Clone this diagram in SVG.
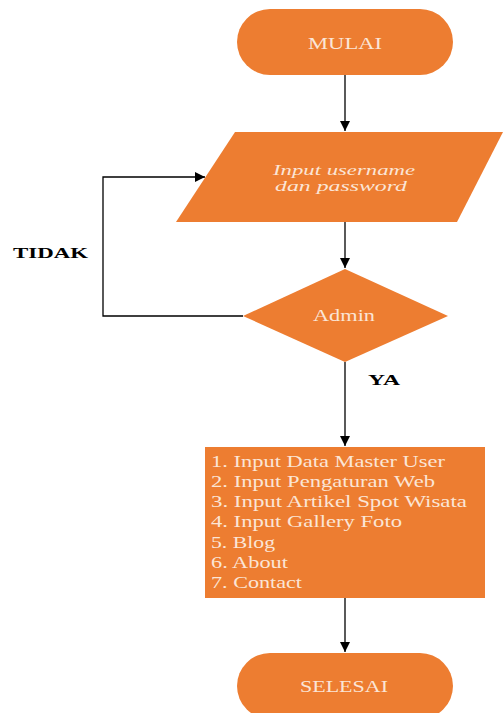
<svg xmlns="http://www.w3.org/2000/svg" width="504" height="713" viewBox="0 0 504 713">
<style>
.shape{fill:#ED7D31;stroke:none}
.lbl{font-family:"Liberation Serif","Times New Roman",serif;fill:#FBE5D6;font-size:17px}
.ital{font-style:italic;font-size:15.5px}
.item{font-family:"Liberation Serif","Times New Roman",serif;fill:#FBE5D6;font-size:16.5px}
.edge{fill:none;stroke:#000;stroke-width:1.3}
.cond{font-family:"Liberation Serif","Times New Roman",serif;font-weight:bold;font-size:15px;fill:#000}
</style>
<defs>
<marker id="arr" viewBox="0 0 10 10" refX="10" refY="5" markerWidth="10" markerHeight="10" markerUnits="userSpaceOnUse" orient="auto">
<path d="M0,0 L10,5 L0,10 z" fill="#000"/>
</marker>
</defs>
<rect width="504" height="713" fill="#fff"/>
<g id="connectors">
<path class="edge" d="M345,75 V131" marker-end="url(#arr)"/>
<path class="edge" d="M345,222 V268" marker-end="url(#arr)"/>
<path class="edge" d="M243,316 H103 V177 H205" marker-end="url(#arr)"/>
<path class="edge" d="M345,362 V446" marker-end="url(#arr)"/>
<path class="edge" d="M345,598 V652" marker-end="url(#arr)"/>
<text class="cond" x="13" y="258" textLength="75" lengthAdjust="spacingAndGlyphs">TIDAK</text>
<text class="cond" x="368" y="385" textLength="32" lengthAdjust="spacingAndGlyphs">YA</text>
</g>
<g id="mulai">
<rect class="shape" x="237" y="9" width="216" height="66" rx="33"/>
<text class="lbl" x="308" y="49" textLength="74" lengthAdjust="spacingAndGlyphs">MULAI</text>
</g>
<g id="input">
<polygon class="shape" points="235,132 503,132 457,222 176,222"/>
<text class="lbl ital" x="273" y="175" textLength="142" lengthAdjust="spacingAndGlyphs">Input username</text>
<text class="lbl ital" x="275" y="191" textLength="132" lengthAdjust="spacingAndGlyphs">dan password</text>
</g>
<g id="admin">
<polygon class="shape" points="345,269 448,316 345,362 243,316"/>
<text class="lbl" x="313" y="321" textLength="62" lengthAdjust="spacingAndGlyphs">Admin</text>
</g>
<g id="menu">
<rect class="shape" x="205" y="447" width="280" height="151"/>
<text class="item" x="211" y="467" textLength="234" lengthAdjust="spacingAndGlyphs">1. Input Data Master User</text>
<text class="item" x="211" y="487" textLength="224" lengthAdjust="spacingAndGlyphs">2. Input Pengaturan Web</text>
<text class="item" x="211" y="507" textLength="256" lengthAdjust="spacingAndGlyphs">3. Input Artikel Spot Wisata</text>
<text class="item" x="211" y="527" textLength="191" lengthAdjust="spacingAndGlyphs">4. Input Gallery Foto</text>
<text class="item" x="211" y="548" textLength="64" lengthAdjust="spacingAndGlyphs">5. Blog</text>
<text class="item" x="211" y="568" textLength="77" lengthAdjust="spacingAndGlyphs">6. About</text>
<text class="item" x="211" y="588" textLength="91" lengthAdjust="spacingAndGlyphs">7. Contact</text>
</g>
<g id="selesai">
<rect class="shape" x="237" y="653" width="216" height="66" rx="33"/>
<text class="lbl" x="300" y="692" textLength="88" lengthAdjust="spacingAndGlyphs">SELESAI</text>
</g>
</svg>
